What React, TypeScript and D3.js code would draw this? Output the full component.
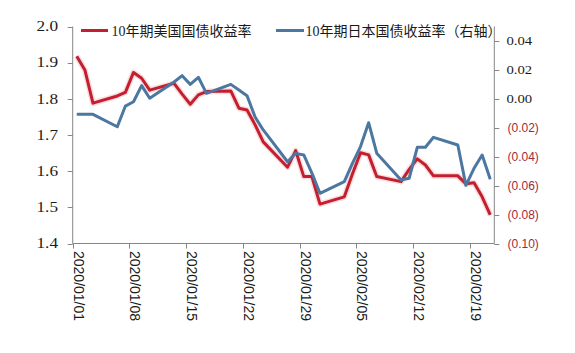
import React, { useEffect, useRef } from "react";
import * as d3 from "d3";

// trading days shown in the chart
const dates = [
  "2020-01-01", "2020-01-02", "2020-01-03",
  "2020-01-06", "2020-01-07", "2020-01-08", "2020-01-09", "2020-01-10",
  "2020-01-13", "2020-01-14", "2020-01-15", "2020-01-16", "2020-01-17",
  "2020-01-20", "2020-01-21", "2020-01-22", "2020-01-23", "2020-01-24",
  "2020-01-27", "2020-01-28", "2020-01-29", "2020-01-30", "2020-01-31",
  "2020-02-03", "2020-02-04", "2020-02-05", "2020-02-06", "2020-02-07",
  "2020-02-10", "2020-02-11", "2020-02-12", "2020-02-13", "2020-02-14",
  "2020-02-17", "2020-02-18", "2020-02-19", "2020-02-20", "2020-02-21",
];

// 10年期美国国债收益率 (left axis)
const usYield = [
  1.918, 1.88, 1.788,
  1.808, 1.818, 1.873, 1.857, 1.824,
  1.843, 1.813, 1.785, 1.811, 1.82,
  1.822, 1.774, 1.769, 1.728, 1.681,
  1.611, 1.657, 1.585, 1.585, 1.509,
  1.529, 1.592, 1.651, 1.645, 1.585,
  1.571, 1.605, 1.634, 1.617, 1.587,
  1.587, 1.565, 1.568, 1.529, 1.479,
];

// 10年期日本国债收益率 (right axis)
const jpYield = [
  -0.0107, -0.0107, -0.0107,
  -0.0193, -0.005, -0.002, 0.0091, 0.0004,
  0.0116, 0.016, 0.01, 0.0149, 0.0038,
  0.01, 0.0061, 0.0022, -0.0126, -0.0215,
  -0.0435, -0.0377, -0.0388, -0.0513, -0.0653,
  -0.0573, -0.0446, -0.033, -0.0165, -0.0376,
  -0.0561, -0.0549, -0.0335, -0.0335, -0.0266,
  -0.0319, -0.0598, -0.048, -0.0388, -0.0556,
];

const leftTicks = [1.4, 1.5, 1.6, 1.7, 1.8, 1.9, 2.0];
const rightTicks = [-0.1, -0.08, -0.06, -0.04, -0.02, 0, 0.02, 0.04];
const xTickLabels = [
  "2020/01/01", "2020/01/08", "2020/01/15", "2020/01/22",
  "2020/01/29", "2020/02/05", "2020/02/12", "2020/02/19",
];
const seriesNames = ["10年期美国国债收益率", "10年期日本国债收益率（右轴）"];

const RED = "#c41f2e";
const BLUE = "#4b77a0";
const AXIS = "#868686";
const SERIF = "'Liberation Serif', 'Noto Sans CJK SC', serif";
const SANS = "'Liberation Sans', Arial, sans-serif";

const parse = d3.timeParse("%Y-%m-%d");
const parseTick = d3.timeParse("%Y/%m/%d");

const App: React.FC = () => {
  const svgRef = useRef<SVGSVGElement>(null);

  useEffect(() => {
    if (!svgRef.current) return;
    const svg = d3.select(svgRef.current);
    svg.selectAll("*").remove();

    const top = 26.5;
    const bottom = 243.5;
    const left = 72.7;
    const right = 494.3;

    const x = d3
      .scaleTime()
      .domain([new Date(2020, 0, 1), new Date(2020, 1, 22)])
      .range([left, right]);
    const yL = d3.scaleLinear().domain([1.4, 2.0]).range([bottom, top]);
    const yR = d3.scaleLinear().domain([-0.1, 0.05]).range([bottom, top]);

    // points sit in the middle of their day slot
    const xDay = (s: string) => x(d3.timeHour.offset(parse(s)!, 12));

    // axes
    const ax = svg.append("g").attr("stroke", AXIS).attr("stroke-width", 1);
    ax.append("line").attr("x1", left).attr("x2", left).attr("y1", top).attr("y2", bottom);
    ax.append("line").attr("x1", right).attr("x2", right).attr("y1", top).attr("y2", bottom);
    ax.append("line").attr("x1", left).attr("x2", right).attr("y1", bottom).attr("y2", bottom);

    leftTicks.forEach((v) => {
      const y = Math.round(yL(v)) + 0.5;
      ax.append("line").attr("x1", left - 5).attr("x2", left).attr("y1", y).attr("y2", y);
      svg
        .append("text")
        .attr("x", 58)
        .attr("y", yL(v) + 4.8)
        .attr("text-anchor", "end")
        .attr("font-family", SERIF)
        .attr("font-size", 14.5)
        .attr("textLength", 21.5)
        .attr("lengthAdjust", "spacingAndGlyphs")
        .attr("fill", "#1a1a1a")
        .text(v.toFixed(1));
    });

    rightTicks.forEach((v) => {
      const y = Math.round(yR(v)) + 0.5;
      ax.append("line").attr("x1", right).attr("x2", right + 5).attr("y1", y).attr("y2", y);
      const neg = v < -1e-9;
      const t = svg
        .append("text")
        .attr("x", neg ? 507.5 : 506.5)
        .attr("y", yR(v) + 4.3)
        .attr("fill", neg ? "#a32a3a" : "#1a1a1a");
      if (neg) {
        t.attr("font-family", SANS).attr("font-size", 12).text(`(${Math.abs(v).toFixed(2)})`);
      } else {
        t.attr("font-family", SERIF)
          .attr("font-size", 13)
          .attr("textLength", 25.7)
          .attr("lengthAdjust", "spacingAndGlyphs")
          .text(Math.abs(v).toFixed(2));
      }
    });

    xTickLabels.forEach((lbl) => {
      const tx = Math.round(x(parseTick(lbl)!)) + 0.5;
      ax.append("line").attr("x1", tx).attr("x2", tx).attr("y1", bottom).attr("y2", bottom + 5);
      svg
        .append("text")
        .attr("transform", `translate(${tx + 0.5},251) rotate(90)`)
        .attr("font-family", SANS)
        .attr("font-size", 14)
        .attr("fill", "#1a1a1a")
        .text(lbl);
    });

    // lines
    const usLine = d3
      .line<number>()
      .x((_, i) => xDay(dates[i]))
      .y((d) => yL(d));
    const jpLine = d3
      .line<number>()
      .x((_, i) => xDay(dates[i]))
      .y((d) => yR(d));

    svg
      .append("path")
      .attr("d", usLine(usYield))
      .attr("fill", "none")
      .attr("stroke", "#e57c86")
      .attr("stroke-opacity", 0.25)
      .attr("stroke-width", 6)
      .attr("stroke-linejoin", "round");
    svg
      .append("path")
      .attr("d", usLine(usYield))
      .attr("fill", "none")
      .attr("stroke", RED)
      .attr("stroke-width", 3)
      .attr("stroke-linejoin", "round");
    svg
      .append("path")
      .attr("d", jpLine(jpYield))
      .attr("fill", "none")
      .attr("stroke", BLUE)
      .attr("stroke-width", 3)
      .attr("stroke-linejoin", "round");

    // legend
    const legend = [
      { name: seriesNames[0], color: RED, x1: 81, x2: 108, tx: 111.5 },
      { name: seriesNames[1], color: BLUE, x1: 276, x2: 304, tx: 305.5 },
    ];
    legend.forEach((l) => {
      svg
        .append("line")
        .attr("x1", l.x1)
        .attr("x2", l.x2)
        .attr("y1", 30.5)
        .attr("y2", 30.5)
        .attr("stroke", l.color)
        .attr("stroke-width", 3);
      svg
        .append("text")
        .attr("x", l.tx)
        .attr("y", 35.5)
        .attr("font-family", SERIF)
        .attr("font-size", 14)
        .attr("fill", "#1a1a1a")
        .text(l.name);
    });
  }, []);

  return (
    <svg
      ref={svgRef}
      width={575}
      height={353}
      style={{ position: "absolute", left: 0, top: 0, background: "#fff" }}
    />
  );
};

export default App;
